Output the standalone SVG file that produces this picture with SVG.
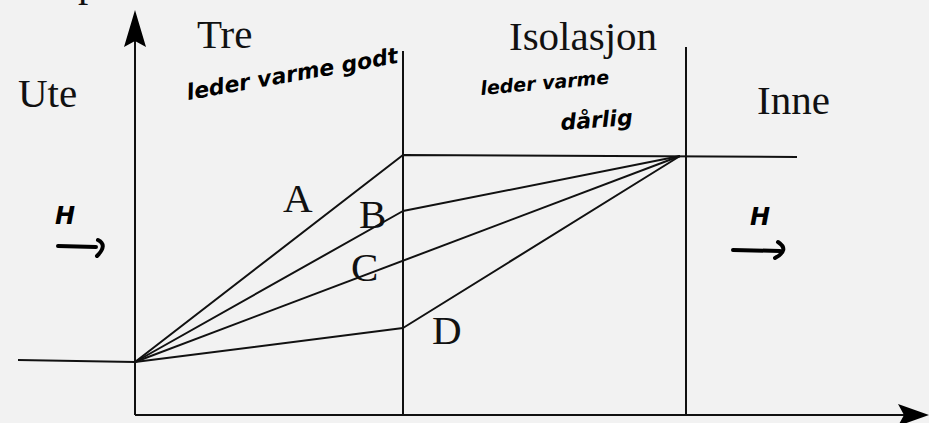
<svg xmlns="http://www.w3.org/2000/svg" width="929" height="423" viewBox="0 0 929 423">
<defs>
<style>
.lbl{font-family:"Liberation Serif","Times New Roman",serif;font-size:41px;fill:#111}
.hand{font-family:"DejaVu Sans","Liberation Sans",sans-serif;font-weight:bold;font-style:italic;fill:#000}
.ln{stroke:#111;stroke-width:2;fill:none;stroke-linejoin:round}
.hd{stroke:#000;stroke-width:4;fill:none;stroke-linecap:round;stroke-linejoin:round}
</style>
</defs>
<rect width="929" height="423" fill="#f2f2f2"/>
<g id="axes">
<line class="ln" x1="135" y1="40" x2="135" y2="415"/>
<polygon points="135,10 124,47 135,41 146,47" fill="#000"/>
<line class="ln" x1="135" y1="415" x2="905" y2="415"/>
<polygon points="929,415 898,404 904,415 898,426" fill="#000"/>
<text class="lbl" x="78" y="-4">p</text>
</g>
<g id="walls">
<line class="ln" x1="403" y1="51" x2="403" y2="415"/>
<line class="ln" x1="686" y1="47" x2="686" y2="415"/>
</g>
<g id="labels">
<text class="lbl" x="18" y="107">Ute</text>
<text class="lbl" x="197" y="48">Tre</text>
<text class="lbl" x="509" y="50">Isolasjon</text>
<text class="lbl" x="757" y="114">Inne</text>
<text class="lbl" x="283" y="212">A</text>
<text class="lbl" x="359" y="228">B</text>
<text class="lbl" x="351" y="281">C</text>
<text class="lbl" x="432" y="344">D</text>
</g>
<g id="notes">
<text class="hand" font-size="22" transform="translate(188,100) rotate(-10)">leder varme godt</text>
<text class="hand" font-size="19" transform="translate(481,95) rotate(-5)">leder varme</text>
<text class="hand" font-size="22" transform="translate(561,130) rotate(-4)">dårlig</text>
<text class="hand" font-size="24" x="55" y="224">H</text>
<text class="hand" font-size="24" x="750" y="225">H</text>
<path class="hd" d="M58,246 L96,247 M98,240 Q108,245 97,256"/>
<path class="hd" d="M733,250 L780,251 M778,242 Q790,250 775,258"/>
</g>
<g id="connectors">
<path class="ln" d="M18,360 L135,362"/>
<path class="ln" d="M135,362 L403,155 L797,157"/>
<path class="ln" d="M135,362 L403,211 L680,156"/>
<path class="ln" d="M135,362 L680,156"/>
<path class="ln" d="M135,362 L403,328 L680,156"/>
</g>
</svg>
